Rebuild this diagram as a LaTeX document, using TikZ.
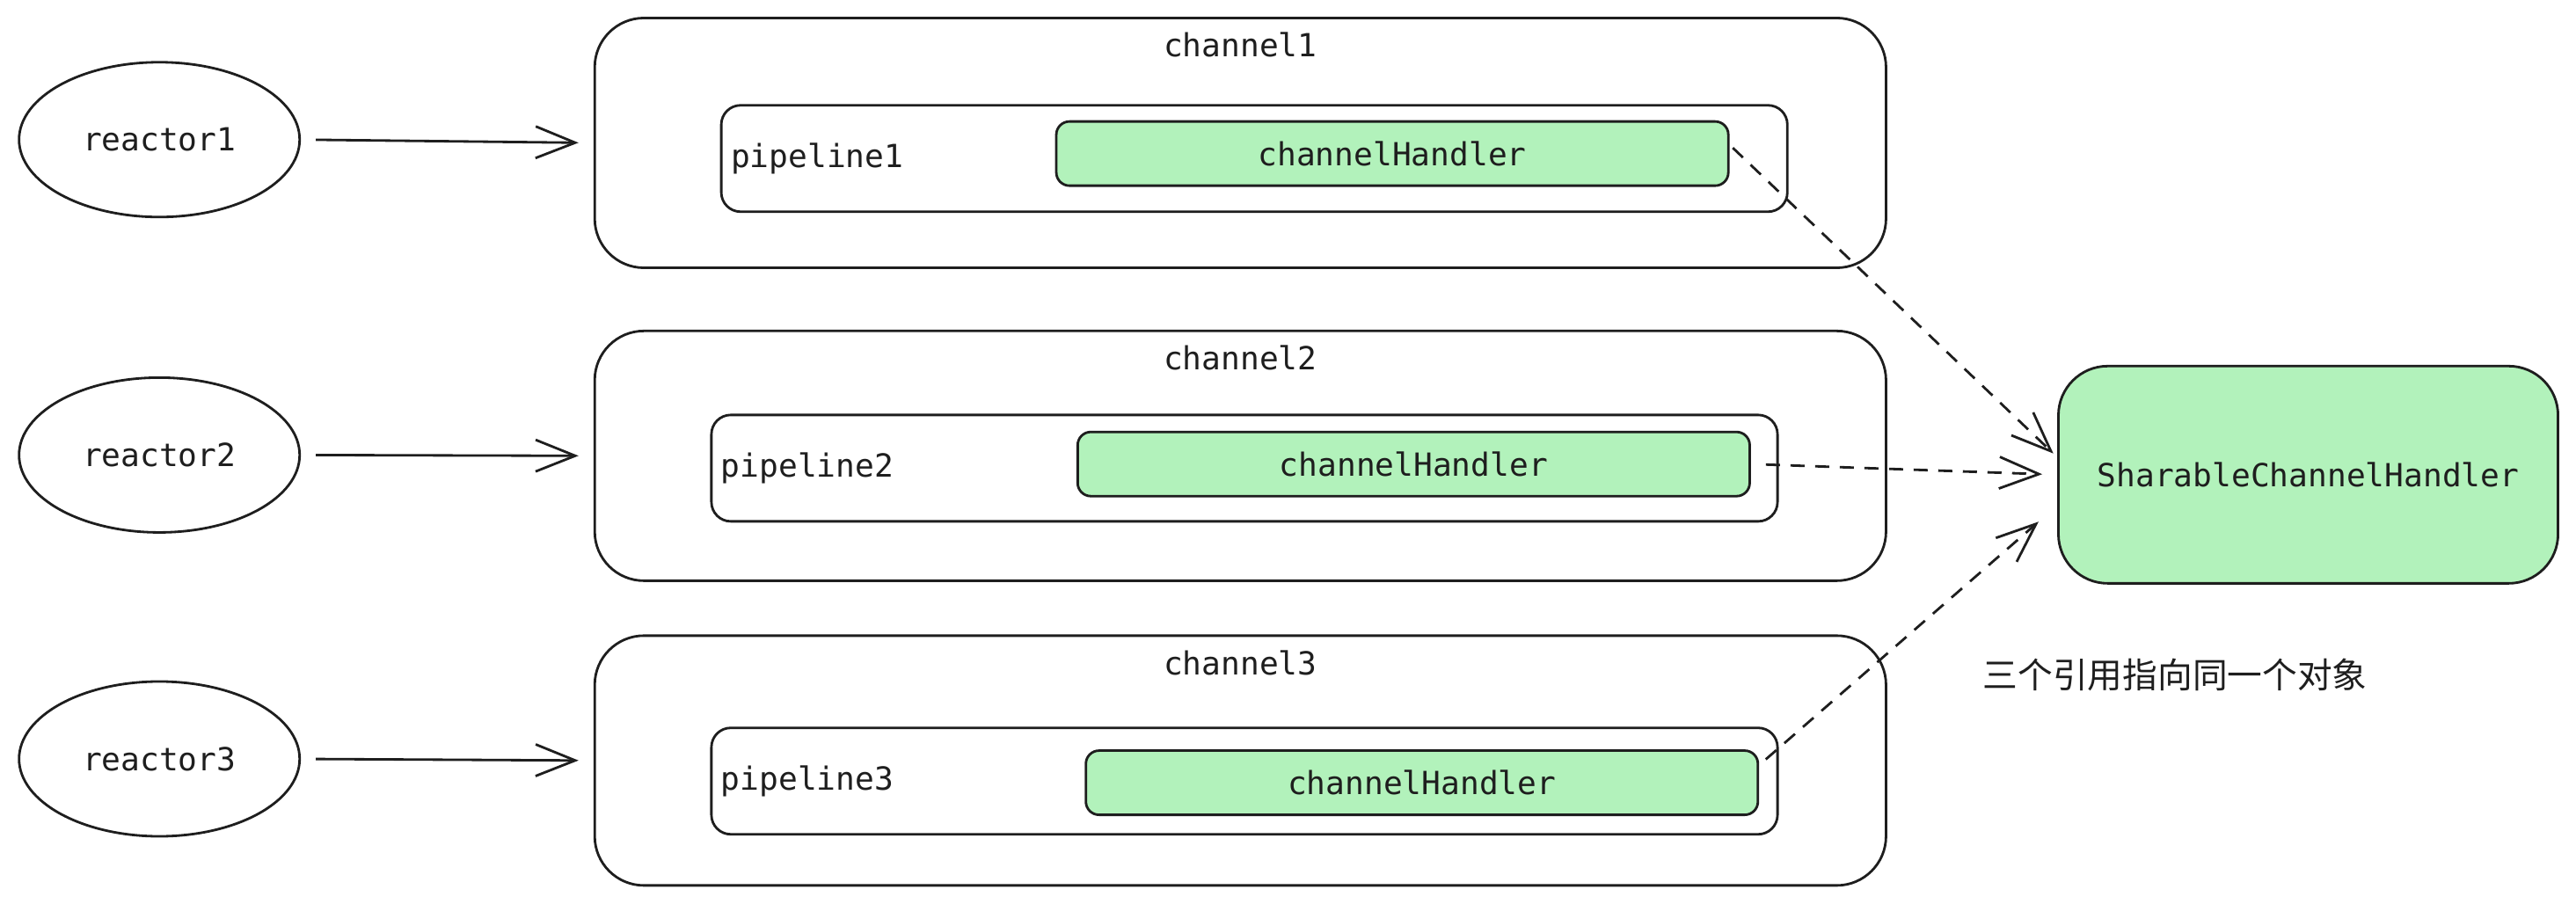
\documentclass[tikz,border=0pt]{standalone}
\usepackage{fontspec}
\setmonofont{DejaVu Sans Mono}
\newfontfamily\cjk{Noto Sans CJK SC}
\usetikzlibrary{arrows.meta,shapes.geometric}
\definecolor{ink}{HTML}{1E1E1E}
\definecolor{handlergreen}{HTML}{B2F2BB}

\begin{document}
\begin{tikzpicture}[x=0.01868cm,y=-0.01868cm,
    every node/.style={font=\ttfamily\fontsize{10.3}{12}\selectfont,text=ink},
    reactor/.style={draw=ink,line width=0.8pt,ellipse,minimum width=3.19cm,minimum height=1.76cm},
    chanbox/.style={draw=ink,line width=0.8pt,rounded corners=0.56cm,minimum width=14.68cm,minimum height=2.84cm},
    pipebox/.style={draw=ink,line width=0.8pt,rounded corners=0.22cm,minimum width=12.12cm,minimum height=1.21cm},
    handlerbox/.style={draw=ink,fill=handlergreen,line width=0.8pt,rounded corners=0.15cm,minimum width=7.64cm,minimum height=0.73cm},
    feed/.style={draw=ink,line width=0.8pt,-{Straight Barb[length=0.45cm,width=0.36cm]},shorten <=0.17cm,shorten >=0.17cm},
    ref/.style={feed,dash pattern=on 0.16cm off 0.12cm}]
  \useasboundingbox (0,0) rectangle (1568,549.8);
  %reactors and channels
    \node[reactor] (r1) at (97,85) {reactor1};
    \node[reactor] (r2) at (97,277) {reactor2};
    \node[reactor] (r3) at (97,462) {reactor3};

    \node[chanbox] (c1) at (755,87) {};
    \node[chanbox] (c2) at (755,277.5) {};
    \node[chanbox] (c3) at (755,463) {};
    \node (c1t) at ([yshift=-0.32cm]c1.north) {channel1};
    \node (c2t) at ([yshift=-0.32cm]c2.north) {channel2};
    \node (c3t) at ([yshift=-0.32cm]c3.north) {channel3};

    \node[pipebox] (p1) at (763.5,96.5) {};
    \node[pipebox] (p2) at (757.5,285) {};
    \node[pipebox] (p3) at (757.5,475.5) {};
    \node[anchor=west] (p1t) at (p1.west) {pipeline1};
    \node[anchor=west] (p2t) at (p2.west) {pipeline2};
    \node[anchor=west] (p3t) at (p3.west) {pipeline3};

    \node[handlerbox] (h1) at (847.5,93.5) {channelHandler};
    \node[handlerbox] (h2) at (860.5,282.5) {channelHandler};
    \node[handlerbox] (h3) at (865.5,476.5) {channelHandler};

    \node[handlerbox,rounded corners=0.56cm,minimum width=5.68cm,minimum height=2.47cm] (sh) at (1405,289) {SharableChannelHandler};
    \node[font=\cjk\fontsize{11.3}{13}\selectfont] (note) at (1324,411) {三个引用指向同一个对象};

    \draw[feed] (r1.east) -- (c1.west);
    \draw[feed] (r2.east) -- (c2.west);
    \draw[feed] (r3.east) -- (c3.west);

    \draw[ref,shorten <=0.05cm,shorten >=0.06cm] ([yshift=0.1cm]h1.east) -- ([yshift=0.2cm]sh.west);
    \draw[ref] (h2.east) -- (sh.west);
    \draw[ref,shorten <=0.1cm,shorten >=0.28cm] ([yshift=0.2cm]h3.east) -- ([yshift=-0.35cm]sh.west);
\end{tikzpicture}
\end{document}
